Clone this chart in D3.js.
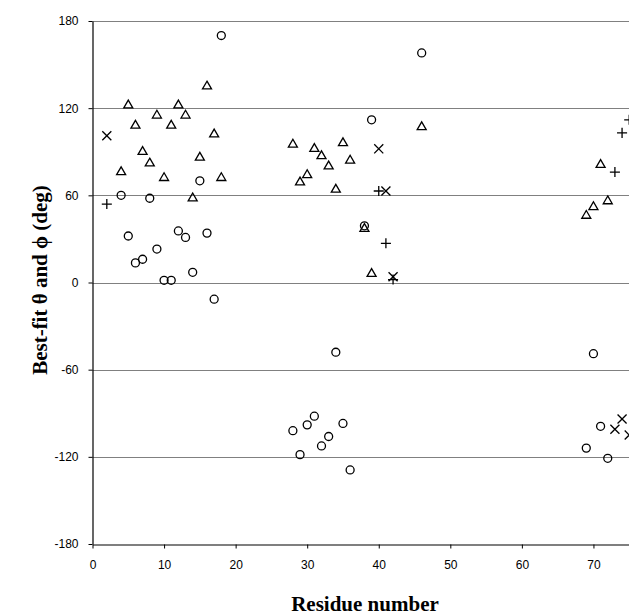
<!DOCTYPE html>
<html>
<head>
<meta charset="utf-8">
<script src="https://cdn.jsdelivr.net/npm/d3@7"></script>
<style>
  html, body { margin: 0; padding: 0; background: #fff; }
  #container svg { display: block; overflow: hidden; }
  .tick text { font-family: "Liberation Sans", Arial, sans-serif; font-size: 12px; fill: #000; }
  .title { font-family: "Liberation Serif", "Times New Roman", serif; font-weight: bold; font-size: 21px; fill: #000; }
</style>
</head>
<body>
<div id="container"></div>
<script>
// residue numbers and best-fit angles (deg), one pair of arrays per marker
const circleResidues = [4, 5, 6, 7, 8, 9, 10, 11, 12, 13, 14, 15, 16, 17, 18,
    28, 29, 30, 31, 32, 33, 34, 35, 36, 38, 39, 46, 69, 70, 71, 72];
const circleAngles = [60, 32, 13.5, 16, 58, 23, 1.5, 1.5, 35.5, 31, 7, 70, 34, -11.5, 170,
    -102, -118.5, -98, -92, -112.5, -106, -48, -97, -129, 39, 112, 158, -114, -49, -99, -121];

const triangleResidues = [4, 5, 6, 7, 8, 9, 10, 11, 12, 13, 14, 15, 16, 17, 18,
    28, 29, 30, 31, 32, 33, 34, 35, 36, 38, 39, 46, 69, 70, 71, 72];
const triangleAngles = [76, 122, 108, 90, 82, 115, 72, 108, 122, 115, 58, 86, 135, 102, 72,
    95, 69, 74, 92, 87, 80, 64, 96, 84, 37, 6, 107, 46, 52, 81, 56];

const crossResidues = [2, 40, 41, 42, 73, 74, 75];
const crossAngles = [101, 92, 63, 4, -101, -94, -105];

const plusResidues = [2, 40, 41, 42, 73, 74, 75];
const plusAngles = [54, 63, 27, 2, 76, 103, 112];

const xTicks = [0, 10, 20, 30, 40, 50, 60, 70];
const yTicks = [-180, -120, -60, 0, 60, 120, 180];

const w = 629;
const h = 616;

const svg = d3.select('#container').append('svg')
    .attr('width', w)
    .attr('height', h);

const xScale = d3.scaleLinear()
    .domain([0, 80])
    .range([92.5, 665]);

const yScale = d3.scaleLinear()
    .domain([-180, 180])
    .range([544, 21]);

// horizontal grid lines
svg.append('g')
    .selectAll('line')
    .data(yTicks.filter(d => d !== -180))
    .enter()
    .append('line')
    .attr('x1', xScale(0))
    .attr('x2', w)
    .attr('y1', d => Math.round(yScale(d)) + 0.5)
    .attr('y2', d => Math.round(yScale(d)) + 0.5)
    .attr('stroke', '#808080')
    .attr('stroke-width', 1);

const xAxis = d3.axisBottom(xScale)
    .tickValues(xTicks)
    .tickSize(4)
    .tickSizeOuter(0)
    .tickPadding(12)
    .tickFormat(d => d);

const yAxis = d3.axisLeft(yScale)
    .tickValues(yTicks)
    .tickSize(4)
    .tickSizeOuter(0)
    .tickPadding(10)
    .tickFormat(d => d);

const gx = svg.append('g')
    .attr('transform', 'translate(0,' + (Math.round(yScale(-180)) + 0.5) + ')')
    .call(xAxis);

const gy = svg.append('g')
    .attr('transform', 'translate(' + xScale(0) + ',0)')
    .call(yAxis);

gx.select('.domain').attr('stroke', '#000').attr('stroke-width', 1.2);
gy.select('.domain').attr('stroke', '#000').attr('stroke-width', 1.2);
gx.selectAll('.tick line').attr('stroke', '#000');
gy.selectAll('.tick line').attr('stroke', '#000');

// markers
const drawSeries = (xs, ys, type, size) => {
    svg.append('g')
        .selectAll('path')
        .data(xs.map((x, i) => ({ x: x, y: ys[i] })))
        .enter()
        .append('path')
        .attr('transform', d => 'translate(' + xScale(d.x) + ',' + yScale(d.y) + ')')
        .attr('d', d3.symbol().type(type).size(size))
        .attr('fill', 'none')
        .attr('stroke', '#000')
        .attr('stroke-width', 1.3);
};

drawSeries(circleResidues, circleAngles, d3.symbolCircle, 50);
drawSeries(triangleResidues, triangleAngles, d3.symbolTriangle2, 58);
drawSeries(crossResidues, crossAngles, d3.symbolTimes, 55);
drawSeries(plusResidues, plusAngles, d3.symbolPlus, 35);

// titles
svg.append('text')
    .attr('class', 'title')
    .attr('text-anchor', 'middle')
    .attr('x', 365)
    .attr('y', 611)
    .text('Residue number');

svg.append('text')
    .attr('class', 'title')
    .attr('text-anchor', 'middle')
    .attr('transform', 'translate(47,280) rotate(-90)')
    .text('Best-fit \u03B8 and \u03D5 (deg)');
</script>
</body>
</html>
